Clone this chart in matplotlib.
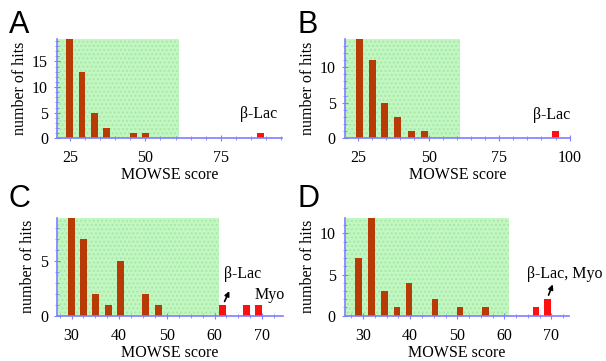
import matplotlib
matplotlib.use("Agg")
import matplotlib.pyplot as plt
from matplotlib.ticker import MultipleLocator

# ---- data ----
a_x = [25, 29, 33, 37, 46, 50]
a_y = [19.5, 13, 5, 2, 1, 1]
a_rx = [88]
a_ry = [1]

b_x = [25.5, 30, 34.5, 39, 44, 48.5]
b_y = [14.5, 11, 5, 3, 1, 1]
b_rx = [95]
b_ry = [1]

c_x = [30, 32.5, 35, 37.8, 40.3, 45.5, 48.2]
c_y = [9.5, 7, 2, 1, 5, 2, 1]
c_rx = [61.7, 66.7, 69.3]
c_ry = [1, 1, 1]

d_x = [29, 31.8, 34.5, 37.2, 39.8, 45.2, 50.6, 56]
d_y = [7, 12.5, 3, 1, 4, 2, 1, 1]
d_rx = [66.7, 69.2]
d_ry = [1, 2]

threshold = 61

BAR = '#b83a05'
RED = '#ff1010'
GREEN = '#c2f7c2'
AXC = '#7f7fff'

plt.rcParams['font.family'] = ['Liberation Serif', 'DejaVu Serif']

fig = plt.figure(figsize=(6.06, 3.61), dpi=100)

panels = [
    dict(letter='A', rect=[0.094, 0.617, 0.371, 0.274], x=a_x, y=a_y, rx=a_rx, ry=a_ry,
         xlim=(20.7, 95.2), ylim=(0, 19.3), xmin=5, ymaj=5, ymin=1, xticks=[25, 50, 75],
         w=2.3, lpos=(9, 10)),
    dict(letter='B', rect=[0.569, 0.617, 0.371, 0.274], x=b_x, y=b_y, rx=b_rx, ry=b_ry,
         xlim=(20.3, 100), ylim=(0, 13.9), xmin=5, ymaj=5, ymin=1, xticks=[25, 50, 75, 100],
         w=2.4, lpos=(298, 10)),
    dict(letter='C', rect=[0.0945, 0.1255, 0.372, 0.2715], x=c_x, y=c_y, rx=c_rx, ry=c_ry,
         xlim=(27.0, 74.3), ylim=(0, 8.97), xmin=2.5, ymaj=5, ymin=1, xticks=[30, 40, 50, 60, 70],
         w=1.45, lpos=(9, 184)),
    dict(letter='D', rect=[0.569, 0.1255, 0.3696, 0.2715], x=d_x, y=d_y, rx=d_rx, ry=d_ry,
         xlim=(26.1, 73.7), ylim=(0, 11.9), xmin=2.5, ymaj=5, ymin=1, xticks=[30, 40, 50, 60, 70],
         w=1.35, lpos=(298, 184)),
]

fs = 11.5
axes = []
for p in panels:
    ax = fig.add_axes(p['rect'])
    axes.append(ax)
    ax.set_xlim(*p['xlim'])
    ax.set_ylim(*p['ylim'])
    ax.axvspan(p['xlim'][0], threshold, facecolor=GREEN, edgecolor='#a8e8a8',
               hatch='....', linewidth=0, zorder=0)
    ax.bar(p['x'], p['y'], width=p['w'], color=BAR, zorder=2)
    ax.bar(p['rx'], p['ry'], width=p['w'], color=RED, zorder=2)
    for s in ['top', 'right']:
        ax.spines[s].set_visible(False)
    for s in ['left', 'bottom']:
        ax.spines[s].set_color(AXC)
        ax.spines[s].set_linewidth(1.2)
        ax.spines[s].set_zorder(3)
    ax.set_xticks(p['xticks'])
    ax.xaxis.set_minor_locator(MultipleLocator(p['xmin']))
    ax.yaxis.set_major_locator(MultipleLocator(p['ymaj']))
    ax.yaxis.set_minor_locator(MultipleLocator(p['ymin']))
    ax.tick_params(which='both', direction='inout', color=AXC, labelsize=fs)
    ax.tick_params(axis='x', pad=6)
    ax.tick_params(axis='y', pad=4)
    ax.tick_params(which='major', length=5)
    ax.tick_params(which='minor', length=3)
    ax.set_xlabel('MOWSE score', fontsize=fs, labelpad=1)
    ax.set_ylabel('number of hits', fontsize=fs, labelpad=3)
    fig.text(p['lpos'][0] / 606, 1 - p['lpos'][1] / 361, p['letter'],
             family=['Liberation Sans', 'DejaVu Sans'], fontsize=22, va='top', ha='left')

axA, axB, axC, axD = axes
axA.text(87.5, 4.7, 'β-Lac', ha='center', va='center', fontsize=fs)
axB.text(93.7, 3.2, 'β-Lac', ha='center', va='center', fontsize=fs)
axC.text(65.9, 3.8, 'β-Lac', ha='center', va='center', fontsize=fs)
axC.text(71.6, 1.9, 'Myo', ha='center', va='center', fontsize=fs)
axC.annotate('', xy=(63.1, 2.25), xytext=(62.1, 1.3),
             arrowprops=dict(arrowstyle='-|>', color='black', lw=1.2, mutation_scale=7,
                             shrinkA=0, shrinkB=0))
axD.text(64.8, 5.06, 'β-Lac, Myo', ha='left', va='center', fontsize=fs, clip_on=False)
axD.annotate('', xy=(70.3, 3.8), xytext=(69.4, 2.5),
             arrowprops=dict(arrowstyle='-|>', color='black', lw=1.2, mutation_scale=7,
                             shrinkA=0, shrinkB=0))

fig.savefig('out.png', dpi=100)
